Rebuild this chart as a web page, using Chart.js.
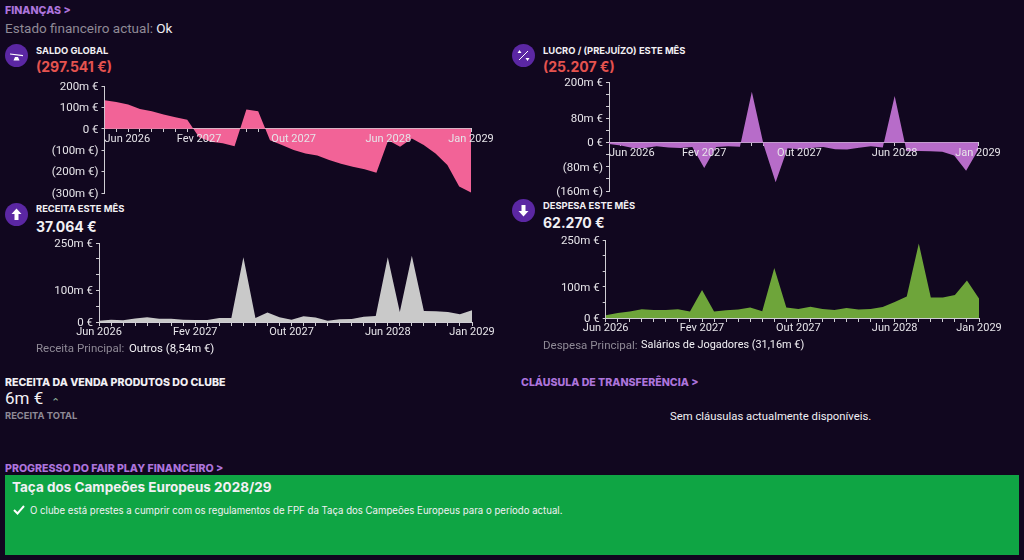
<!DOCTYPE html>
<html>
<head>
<meta charset="utf-8">
<script src="https://cdn.jsdelivr.net/npm/chart.js@4"></script>
<style>
html, body { margin: 0; padding: 0; background: #11071f; }
body { width: 1024px; height: 560px; position: relative; overflow: hidden; font-family: Roboto, sans-serif; color: #f2f0f4; }
canvas { position: absolute; }
.t { position: absolute; white-space: nowrap; line-height: 1; }
.link { font-family: Inter, sans-serif; font-size: 10.6px; font-weight: 800; color: #ad74dc; }
.head { font-family: Inter, sans-serif; font-size: 9.4px; font-weight: 700; }
.big { font-family: Inter, sans-serif; font-size: 14px; font-weight: 700; }
.red { color: #e5534f; }
.dim { color: #8f8a96; }
.icon { position: absolute; width: 23px; height: 23px; }
#panel { position: absolute; left: 5px; top: 475px; width: 1014px; height: 80px; background: #0fa544; }
</style>
</head>
<body>
<div class="t link" style="left:5px;top:6px">FINANÇAS &gt;</div>
<div class="t dim" style="left:5px;top:22px;font-size:13.5px">Estado financeiro actual: <span style="color:#f2f0f4">Ok</span></div>

<svg class="icon" style="left:5px;top:44px" viewBox="0 0 23 23"><circle cx="11.5" cy="11.5" r="11.5" fill="#5b27a3"/><path d="M5 9.5l13 1.6v1.1l-13-1.6zM10 13h3l1.5 3.5h-6z" fill="#fff"/></svg>
<div class="t head" style="left:36px;top:46px">SALDO GLOBAL</div>
<div class="t big red" style="left:36px;top:60px">(297.541 €)</div>

<svg class="icon" style="left:512px;top:44px" viewBox="0 0 23 23"><circle cx="11.5" cy="11.5" r="11.5" fill="#5b27a3"/><path d="M7 16L16 7" stroke="#fff" stroke-width="1"/><path d="M7.500 6l2 3h-4zM15.500 17l-2-3h4z" fill="#fff"/></svg>
<div class="t head" style="left:543px;top:46px">LUCRO / (PREJUÍZO) ESTE MÊS</div>
<div class="t big red" style="left:543px;top:60px">(25.207 €)</div>

<svg class="icon" style="left:5px;top:203px" viewBox="0 0 23 23"><circle cx="11.5" cy="11.5" r="11.5" fill="#5b27a3"/><path d="M11.500 5.500l5 5.500h-3v6h-4v-6h-3z" fill="#fff"/></svg>
<div class="t head" style="left:36px;top:204px">RECEITA ESTE MÊS</div>
<div class="t big" style="left:36px;top:220px">37.064 €</div>

<svg class="icon" style="left:512px;top:199px" viewBox="0 0 23 23"><circle cx="11.5" cy="11.5" r="11.5" fill="#5b27a3"/><path d="M11.500 17.500l5-5.500h-3v-6h-4v6h-3z" fill="#fff"/></svg>
<div class="t head" style="left:543px;top:201px">DESPESA ESTE MÊS</div>
<div class="t big" style="left:543px;top:216px">62.270 €</div>

<canvas id="saldo" width="510" height="140" style="left:0;top:70px"></canvas>
<canvas id="lucro" width="514" height="140" style="left:510px;top:65px"></canvas>
<canvas id="receita" width="510" height="115" style="left:0;top:230px"></canvas>
<canvas id="despesa" width="514" height="115" style="left:510px;top:227px"></canvas>

<div class="t dim" style="left:36px;top:343px;font-size:11.5px">Receita Principal:</div>
<div class="t" style="left:129px;top:343px;font-size:11.4px">Outros (8,54m €)</div>
<div class="t dim" style="left:543px;top:340px;font-size:11.5px">Despesa Principal:</div>
<div class="t" style="left:641px;top:340px;font-size:10.9px">Salários de Jogadores (31,16m €)</div>

<div class="t" style="left:5px;top:378px;font-family:Inter,sans-serif;font-size:10.6px;font-weight:800">RECEITA DA VENDA PRODUTOS DO CLUBE</div>
<div class="t" style="left:5px;top:390px;font-size:17px">6m €</div>
<div class="t" style="left:51px;top:397px;font-size:11px;color:#8fb39a">⌃</div>
<div class="t dim" style="left:5px;top:411px;font-family:Inter,sans-serif;font-size:9.4px;font-weight:700">RECEITA TOTAL</div>

<div class="t link" style="left:521px;top:378px">CLÁUSULA DE TRANSFERÊNCIA &gt;</div>
<div class="t" style="left:670px;top:411px;font-size:11.3px">Sem cláusulas actualmente disponíveis.</div>

<div class="t link" style="left:5px;top:464px">PROGRESSO DO FAIR PLAY FINANCEIRO &gt;</div>
<div id="panel"></div>
<div class="t" style="left:12px;top:481px;font-family:Inter,sans-serif;font-size:13.5px;font-weight:700">Taça dos Campeões Europeus 2028/29</div>
<svg class="icon" style="left:13px;top:504px;width:12px;height:11px" viewBox="0 0 12 11"><path d="M1 6l3.500 3.500L11 2" fill="none" stroke="#fff" stroke-width="2"/></svg>
<div class="t" style="left:30px;top:506px;font-family:Inter,sans-serif;font-size:9.65px">O clube está prestes a cumprir com os regulamentos de FPF da Taça dos Campeões Europeus para o período actual.</div>

<script>
// months on the x axis, one point per month
const months = [
    'Jun 2026', 'Jul 2026', 'Ago 2026', 'Set 2026', 'Out 2026', 'Nov 2026', 'Dez 2026', 'Jan 2027',
    'Fev 2027', 'Mar 2027', 'Abr 2027', 'Mai 2027', 'Jun 2027', 'Jul 2027', 'Ago 2027', 'Set 2027',
    'Out 2027', 'Nov 2027', 'Dez 2027', 'Jan 2028', 'Fev 2028', 'Mar 2028', 'Abr 2028', 'Mai 2028',
    'Jun 2028', 'Jul 2028', 'Ago 2028', 'Set 2028', 'Out 2028', 'Nov 2028', 'Dez 2028', 'Jan 2029'
];
const shownMonths = ['Jun 2026', 'Fev 2027', 'Out 2027', 'Jun 2028', 'Jan 2029'];

// values in millions of euros
const saldo = [133, 125, 113, 93, 82, 67, 54, 42, -40, -60, -68, -82, 90, 82, -53, -76, -99, -115, -125, -146, -163, -177, -189, -205, -53, -84, -45, -76, -115, -169, -270, -297.541];
const lucro = [-5, -10, -18, -18, -12, -16, -18, -15, -84, -15, -12, -14, 168, -9, -131, -19, -22, -18, -15, -22, -23, -17, -12, -16, 154, -29, -28, -29, -30, -43, -93, -25.207];
const receita = [4, 7, 5.5, 11, 15, 10.5, 10, 7, 6, 6, 13, 13, 205, 13, 30, 15, 7, 18, 14, 4, 9, 9.5, 17, 19, 205, 32, 210, 35, 34, 32, 24.5, 37.064];
const despesa = [8.5, 16, 21, 28, 26, 26, 28, 21, 90, 21, 25, 27, 34, 22, 160, 34, 29, 36, 29, 26, 32, 27, 29, 35, 51, 69, 239, 66, 66, 74, 120, 62.27];

// y axis ticks that carry a label
const saldoTicks = [200, 100, 0, -100, -200, -300];
const lucroTicks = [200, 80, 0, -80, -160];
const receitaTicks = [250, 100, 0];
const despesaTicks = [250, 100, 0];

const AXIS_COLOR = '#cfcdd3';

function euroLabel(v) {
    if (v === 0) return '0 €';
    return v < 0 ? '(' + (-v) + 'm €)' : v + 'm €';
}

// tweaks the computed tick labels: first month starts at the axis, y labels sit a pixel lower
const tickLabelTweaks = {
    id: 'tickLabelTweaks',
    afterUpdate(chart, args, opts) {
        if (opts.leftFirst) chart.scales.x.getLabelItems()[0].options.textAlign = 'left';
        chart.scales.y.getLabelItems().forEach(item => { item.options.translation[1] += 1; });
    }
};

function areaChart(id, values, color, labelled, cfg) {
    return new Chart(document.getElementById(id), {
        type: 'line',
        plugins: [tickLabelTweaks],
        data: {
            labels: months,
            datasets: [{
                data: values,
                backgroundColor: color,
                borderWidth: 0,
                pointRadius: 0,
                tension: 0,
                fill: 'origin'
            }]
        },
        options: {
            responsive: false,
            animation: false,
            layout: { padding: { left: 0, right: cfg.right, top: cfg.top, bottom: cfg.bottom } },
            plugins: {
                legend: { display: false },
                tooltip: { enabled: false },
                tickLabelTweaks: { leftFirst: cfg.leftFirst }
            },
            scales: {
                x: {
                    position: { y: 0 },
                    grid: { drawOnChartArea: false, tickLength: 3, color: AXIS_COLOR },
                    border: { color: AXIS_COLOR },
                    ticks: {
                        z: 1,
                        padding: 1,
                        color: '#e6e4e9',
                        font: { family: 'Roboto', size: 11 },
                        autoSkip: false,
                        maxRotation: 0,
                        callback(value) {
                            const m = months[value];
                            return shownMonths.includes(m) ? m : '';
                        }
                    }
                },
                y: {
                    min: cfg.min,
                    max: cfg.max,
                    afterFit(scale) { scale.width = cfg.axisWidth; },
                    grid: { drawOnChartArea: false, tickLength: 3, color: AXIS_COLOR },
                    border: { color: AXIS_COLOR },
                    ticks: {
                        stepSize: cfg.step,
                        padding: 3,
                        color: '#e6e4e9',
                        font: { family: 'Roboto', size: 11.5 },
                        autoSkip: false,
                        callback(value) {
                            return labelled.includes(value) ? euroLabel(value) : '';
                        }
                    }
                }
            }
        }
    });
}

areaChart('saldo', saldo, '#f26397', saldoTicks, { min: -300, max: 200, step: 100, axisWidth: 104.5, right: 39, top: 16, bottom: 17, leftFirst: true });
areaChart('lucro', lucro, '#b76cc9', lucroTicks, { min: -160, max: 200, step: 40, axisWidth: 99, right: 46, top: 17, bottom: 14, leftFirst: true });
areaChart('receita', receita, '#c9c9c9', receitaTicks, { min: 0, max: 250, step: 50, axisWidth: 99, right: 38, top: 13, bottom: 23, leftFirst: false });
areaChart('despesa', despesa, '#6ea53a', despesaTicks, { min: 0, max: 250, step: 50, axisWidth: 95.7, right: 45, top: 13, bottom: 24, leftFirst: false });
</script>
</body>
</html>
